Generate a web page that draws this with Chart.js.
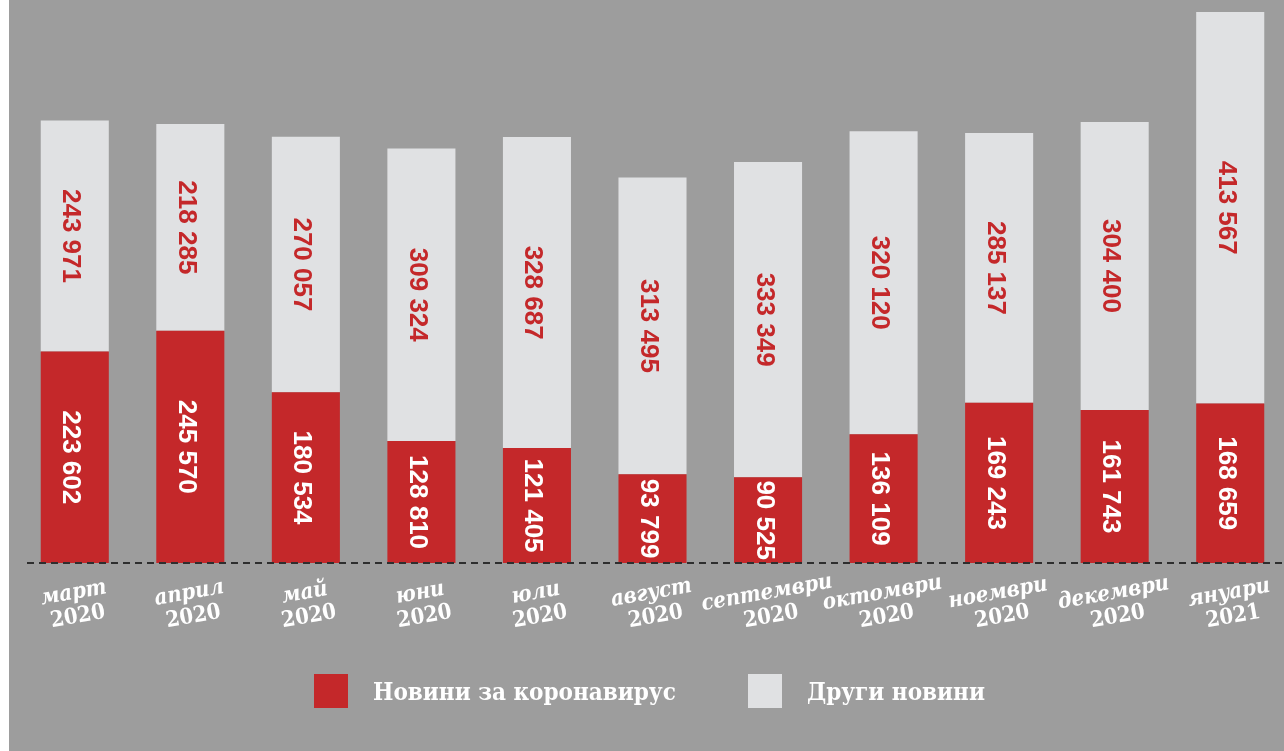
<!DOCTYPE html>
<html>
<head>
<meta charset="utf-8">
<script src="https://cdn.jsdelivr.net/npm/chart.js@4"></script>
<style>
  html,body{margin:0;padding:0;background:#fff;overflow:hidden;width:1284px;height:751px;}
  #bg{position:absolute;left:9px;top:0;width:1275px;height:751px;background:#9d9d9d;}
  #wrap{position:absolute;left:17px;top:0;width:1271px;height:751px;}
  .lg{position:absolute;top:674px;display:flex;align-items:center;color:#fff;
      font:bold 24px "DejaVu Serif Condensed","DejaVu Serif",serif;white-space:nowrap;}
  .sw{width:34px;height:34px;margin-right:25px;}
</style>
</head>
<body>
<div id="bg"></div>
<div id="wrap"><canvas id="newsChart"></canvas></div>
<div class="lg" style="left:314px"><div class="sw" style="background:#c4282a"></div>Новини за коронавирус</div>
<div class="lg" style="left:748px"><div class="sw" style="background:#e0e1e3"></div>Други новини</div>
<script>
// data
const months = ['март','април','май','юни','юли','август','септември','октомври','ноември','декември','януари'];
const years = ['2020','2020','2020','2020','2020','2020','2020','2020','2020','2020','2021'];
const covidNews = [223602,245570,180534,128810,121405,93799,90525,136109,169243,161743,168659];
const otherNews = [243971,218285,270057,309324,328687,313495,333349,320120,285137,304400,413567];

const RED = '#c4282a', LIGHT = '#e0e1e3';
const fmt = v => String(v).replace(/\B(?=(\d{3})+(?!\d))/g, ' ');

// rotated value labels inside the bars + dashed baseline
const barLabels = {
  id: 'barLabels',
  afterDatasetsDraw(chart){
    const ctx = chart.ctx;
    ctx.save();
    ctx.font = 'bold 26px "Liberation Sans", Arial, sans-serif';
    ctx.textAlign = 'center';
    ctx.textBaseline = 'alphabetic';
    chart.data.datasets.forEach((ds, di) => {
      chart.getDatasetMeta(di).data.forEach((bar, i) => {
        const cy = (bar.y + bar.base) / 2;
        ctx.save();
        ctx.translate(bar.x, cy);
        ctx.rotate(Math.PI / 2);
        ctx.fillStyle = di === 0 ? '#fff' : RED;
        ctx.fillText(fmt(ds.data[i]), 0, 9 + 2.5);
        ctx.restore();
      });
    });
    // dashed baseline
    const y = chart.scales.y.getPixelForValue(0);
    ctx.strokeStyle = '#2e2e2e';
    ctx.lineWidth = 2;
    ctx.setLineDash([7, 5]);
    ctx.beginPath();
    ctx.moveTo(10, y);
    ctx.lineTo(chart.width, y);
    ctx.stroke();
    ctx.restore();
  }
};

// tilted two-line category labels
const xLabels = {
  id: 'xLabels',
  afterDraw(chart){
    const ctx = chart.ctx, xs = chart.scales.x;
    ctx.save();
    ctx.fillStyle = '#fff';
    ctx.textAlign = 'center';
    ctx.textBaseline = 'middle';
    months.forEach((m, i) => {
      const x = xs.getPixelForValue(i) + 1;
      ctx.save();
      ctx.translate(x, 605);
      ctx.rotate(-10 * Math.PI / 180);
      ctx.font = 'italic bold 22px "DejaVu Serif Condensed", "DejaVu Serif", serif';
      ctx.fillText(m, 0, -12);
      ctx.font = 'bold 22px "DejaVu Serif Condensed", "DejaVu Serif", serif';
      ctx.fillText(years[i], 0, 12);
      ctx.restore();
    });
    ctx.restore();
  }
};

new Chart(document.getElementById('newsChart').getContext('2d'), {
  type: 'bar',
  data: {
    labels: months,
    datasets: [
      {label: 'Новини за коронавирус', data: covidNews, backgroundColor: RED, borderWidth: 0},
      {label: 'Други новини', data: otherNews, backgroundColor: LIGHT, borderWidth: 0}
    ]
  },
  options: {
    responsive: true, maintainAspectRatio: false, animation: false,
    layout: {padding: {top: 0, left: 0, right: 0, bottom: 188}},
    datasets: {bar: {categoryPercentage: 1, barPercentage: 0.589}},
    scales: {
      x: {stacked: true, display: false},
      y: {stacked: true, display: false, min: 0, max: 595000}
    },
    plugins: {legend: {display: false}, tooltip: {enabled: false}}
  },
  plugins: [barLabels, xLabels]
});
</script>
</body>
</html>
